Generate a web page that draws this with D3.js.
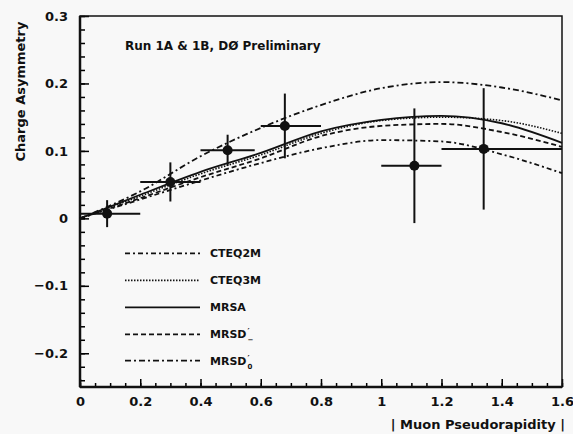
<!DOCTYPE html>
<html>
<head>
<meta charset="utf-8">
<script src="https://cdn.jsdelivr.net/npm/d3@7"></script>
<style>
  html, body { margin: 0; padding: 0; background: #f8f8f8; }
  text { font-family: "DejaVu Sans", Verdana, sans-serif; font-weight: bold; fill: #111; }
</style>
</head>
<body>
<div id="graph"></div>
<script>
// eta grid for the theory curves
const etaGrid = [0, 0.2, 0.4, 0.6, 0.8, 1.0, 1.2, 1.4, 1.6];
const cteq2m = [0, 0.028, 0.056, 0.082, 0.104, 0.116, 0.114, 0.095, 0.067];
const cteq3m = [0, 0.033, 0.066, 0.094, 0.126, 0.145, 0.150, 0.145, 0.126];
const mrsa   = [0, 0.035, 0.069, 0.097, 0.129, 0.146, 0.152, 0.141, 0.112];
const mrsdm  = [0, 0.030, 0.061, 0.089, 0.122, 0.137, 0.140, 0.128, 0.106];
const mrsd0  = [0, 0.040, 0.092, 0.134, 0.168, 0.193, 0.202, 0.194, 0.175];

// measured points
const dataEta  = [0.09, 0.30, 0.49, 0.68, 1.11, 1.34];
const dataAsym = [0.007, 0.054, 0.101, 0.137, 0.078, 0.103];
const dataErr  = [0.020, 0.029, 0.023, 0.048, 0.085, 0.090];
const binLo    = [0.0, 0.2, 0.4, 0.6, 1.0, 1.2];
const binHi    = [0.2, 0.4, 0.58, 0.8, 1.2, 1.6];

const xTicks = [0, 0.2, 0.4, 0.6, 0.8, 1, 1.2, 1.4, 1.6];
const yTicks = [-0.2, -0.1, 0, 0.1, 0.2, 0.3];

const width = 573, height = 434;
const margin = {left: 80, top: 16, right: 11, bottom: 47};
const FONT = "DejaVu Sans, Verdana, sans-serif";

const svg = d3.select("#graph").append("svg")
  .attr("width", width)
  .attr("height", height);

const x = d3.scaleLinear().domain([0, 1.6]).range([margin.left, width - margin.right]);
const y = d3.scaleLinear().domain([-0.25, 0.3]).range([height - margin.bottom, margin.top]);

// minor ticks first, then major ones on top
svg.append("g")
  .attr("transform", `translate(0,${y(-0.25)})`)
  .call(d3.axisBottom(x).tickValues(d3.range(0, 1.6001, 0.05)).tickSize(-4).tickFormat(""))
  .call(g => g.select(".domain").remove())
  .selectAll("line").attr("stroke-width", 1.5);

svg.append("g")
  .attr("transform", `translate(0,${y(-0.25)})`)
  .call(d3.axisBottom(x).tickValues(xTicks).tickSize(-8).tickPadding(10)
    .tickFormat(d => d === 0 || d === 1 ? d3.format("d")(d) : d3.format(".1f")(d)))
  .call(g => g.select(".domain").remove())
  .call(g => g.selectAll("line").attr("stroke-width", 1.5))
  .call(g => g.selectAll("text").attr("font-size", 13).attr("fill", "#111")
    .attr("font-family", FONT));

svg.append("g")
  .attr("transform", `translate(${x(0)},0)`)
  .call(d3.axisLeft(y).tickValues(d3.range(-0.24, 0.3001, 0.02)).tickSize(-5).tickFormat(""))
  .call(g => g.select(".domain").remove())
  .selectAll("line").attr("stroke-width", 1.5);

svg.append("g")
  .attr("transform", `translate(${x(0)},0)`)
  .call(d3.axisLeft(y).tickValues(yTicks).tickSize(-9).tickPadding(12)
    .tickFormat(d => d === 0 ? "0" : d3.format(".1f")(d).replace("-", "\u2212")))
  .call(g => g.select(".domain").remove())
  .call(g => g.selectAll("line").attr("stroke-width", 1.5))
  .call(g => g.selectAll("text").attr("font-size", 13).attr("fill", "#111")
    .attr("font-family", FONT));

// frame
svg.append("rect")
  .attr("x", x(0)).attr("y", y(0.3))
  .attr("width", x(1.6) - x(0)).attr("height", y(-0.25) - y(0.3))
  .attr("fill", "none").attr("stroke", "#111").attr("stroke-width", 1.5);
svg.append("line").attr("x1", x(0)).attr("x2", x(0)).attr("y1", y(0.3)).attr("y2", y(-0.25))
  .attr("stroke", "#111").attr("stroke-width", 2.5);
svg.append("line").attr("x1", x(0)).attr("x2", x(1.6)).attr("y1", y(-0.25)).attr("y2", y(-0.25))
  .attr("stroke", "#111").attr("stroke-width", 2.5);

// theory curves
const curves = [
  {name: "CTEQ2M", vals: cteq2m, dash: "5,3,2,3", w: 1.8},
  {name: "CTEQ3M", vals: cteq3m, dash: "1.5,1.5", w: 1.6},
  {name: "MRSA",   vals: mrsa,   dash: null,      w: 1.8},
  {name: "MRSD-",  vals: mrsdm,  dash: "5,3",     w: 1.8},
  {name: "MRSD0",  vals: mrsd0,  dash: "6,3,2,3", w: 1.8}
];

const line = d3.line()
  .x(d => x(d[0]))
  .y(d => y(d[1]))
  .curve(d3.curveMonotoneX);

const plot = svg.append("g");
curves.forEach(c => {
  plot.append("path")
    .attr("d", line(etaGrid.map((e, i) => [e, c.vals[i]])))
    .attr("fill", "none")
    .attr("stroke", "#111")
    .attr("stroke-width", c.w)
    .attr("stroke-dasharray", c.dash);
});

// data points with error bars
dataEta.forEach((e, i) => {
  plot.append("line")
    .attr("x1", x(binLo[i])).attr("x2", x(binHi[i]))
    .attr("y1", y(dataAsym[i])).attr("y2", y(dataAsym[i]))
    .attr("stroke", "#111").attr("stroke-width", 2);
  plot.append("line")
    .attr("x1", x(e)).attr("x2", x(e))
    .attr("y1", y(dataAsym[i] - dataErr[i])).attr("y2", y(dataAsym[i] + dataErr[i]))
    .attr("stroke", "#111").attr("stroke-width", 2);
  plot.append("circle")
    .attr("cx", x(e)).attr("cy", y(dataAsym[i]))
    .attr("r", 5).attr("fill", "#111");
});

// legend
const legY = [-0.052, -0.092, -0.132, -0.172, -0.211];
const legend = svg.append("g");
curves.forEach((c, i) => {
  const ly = y(legY[i]);
  legend.append("line")
    .attr("x1", 125).attr("x2", 200).attr("y1", ly).attr("y2", ly)
    .attr("stroke", "#111").attr("stroke-width", c.w)
    .attr("stroke-dasharray", c.dash);
  const isD = c.name === "MRSD-" || c.name === "MRSD0";
  const t = legend.append("text")
    .attr("x", 210).attr("y", ly + 4)
    .attr("font-size", 11)
    .text(isD ? "MRSD" : c.name);
  if (isD) {
    const tx = 210 + t.node().getComputedTextLength() + 1;
    legend.append("text").attr("x", tx).attr("y", ly + 1)
      .attr("font-size", 8).text("\u2032");
    legend.append("text").attr("x", tx).attr("y", ly + 8)
      .attr("font-size", 7).text(c.name === "MRSD-" ? "\u2212" : "0");
  }
});

// labels
svg.append("text")
  .attr("x", 125).attr("y", 50)
  .attr("font-size", 12)
  .text("Run 1A  & 1B, D\u00d8 Preliminary");

svg.append("text")
  .attr("transform", `translate(25,${y(0.188)}) rotate(-90)`)
  .attr("text-anchor", "middle")
  .attr("font-size", 13)
  .text("Charge Asymmetry");

svg.append("text")
  .attr("x", 565).attr("y", 429)
  .attr("text-anchor", "end")
  .attr("font-size", 13)
  .text("| Muon Pseudorapidity |");
</script>
</body>
</html>
